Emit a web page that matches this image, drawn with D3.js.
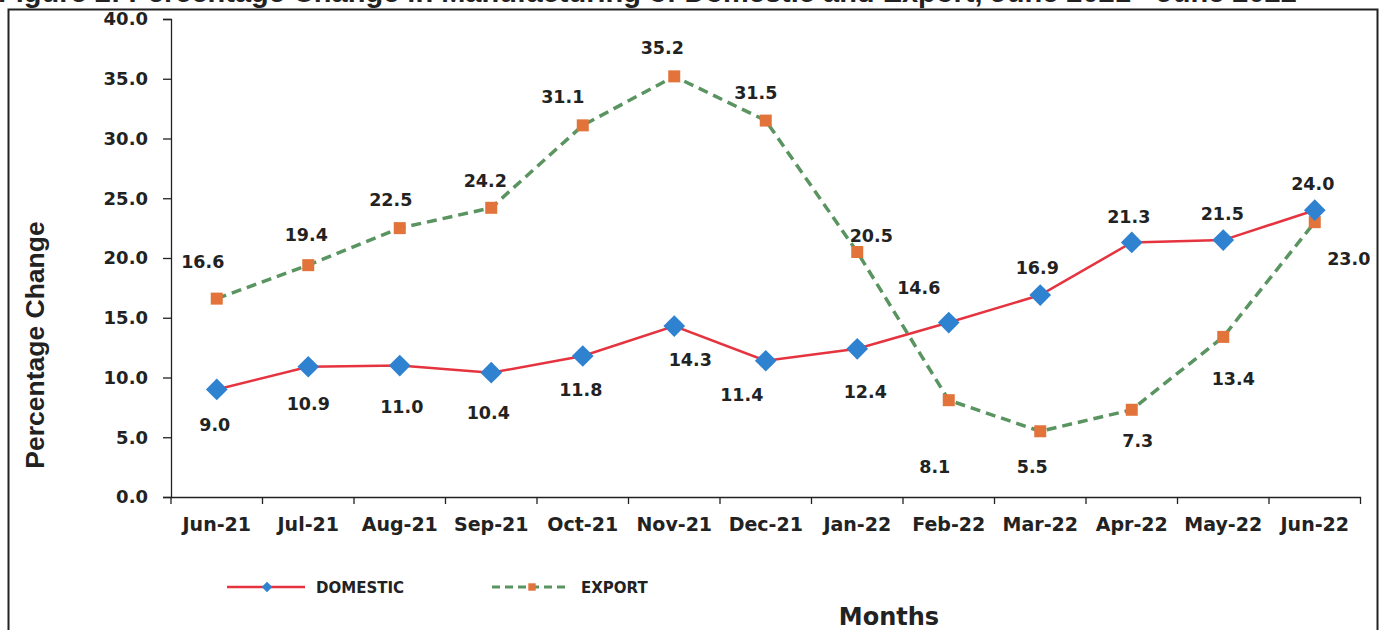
<!DOCTYPE html>
<html>
<head>
<meta charset="utf-8">
<script src="https://cdn.jsdelivr.net/npm/d3@7"></script>
<style>
  body { margin: 0; background: #fff; }
  svg { display: block; font-family: "DejaVu Sans", sans-serif; }
</style>
</head>
<body>
<div id="chart"></div>
<script>
/* chart values */
var months = ["Jun-21", "Jul-21", "Aug-21", "Sep-21", "Oct-21", "Nov-21", "Dec-21",
              "Jan-22", "Feb-22", "Mar-22", "Apr-22", "May-22", "Jun-22"];
var domestic = [9.0, 10.9, 11.0, 10.4, 11.8, 14.3, 11.4, 12.4, 14.6, 16.9, 21.3, 21.5, 24.0];
var exportVals = [16.6, 19.4, 22.5, 24.2, 31.1, 35.2, 31.5, 20.5, 8.1, 5.5, 7.3, 13.4, 23.0];
var yTicks = [0, 5, 10, 15, 20, 25, 30, 35, 40];
var seriesNames = ["DOMESTIC", "EXPORT"];
var titleText = "Figure 2: Percentage Change in Manufacturing of Domestic and Export, June 2021 - June 2022";

/* label nudges (dx, dy) per point, as placed in the original */
var domLabelPos = [[-2,36],[0,37],[2,41],[-3,40],[-2,34],[16,34],[-24,34],[8,43],[-30,-35],[-3,-27],[-3,-25],[-1,-26],[-2,-26]];
var expLabelPos = [[-14,-37],[-2,-30],[-9,-28],[-6,-27],[-20,-28],[-12,-28],[-10,-28],[14,-16],[-14,67],[-8,36],[6,31],[10,42],[34,37]];

var W = 1392, H = 630;
var margin = {top: 19, left: 171};
var plotW = 1189.5, plotH = 478;
var dark = "#222";

var svg = d3.select("#chart").append("svg").attr("width", W).attr("height", H);

/* title, cut off by the top edge as in the original */
svg.append("text")
    .attr("x", -2)
    .attr("y", 2)
    .attr("font-family", "Liberation Sans, Arial, sans-serif")
    .attr("font-size", 29)
    .attr("font-weight", "bold")
    .attr("fill", dark)
    .text(titleText);

/* outer frame */
svg.append("rect")
    .attr("x", 8.5).attr("y", 9.5)
    .attr("width", 1369).attr("height", 640)
    .attr("fill", "none")
    .attr("stroke", dark)
    .attr("stroke-width", 2);

var g = svg.append("g").attr("transform", "translate(" + margin.left + "," + margin.top + ")");

var x = d3.scaleBand().domain(months).range([0, plotW]);
var y = d3.scaleLinear().domain([0, 40]).range([plotH, 0]);
var cx = function(d, i) { return x(months[i]) + x.bandwidth() / 2; };

/* y axis */
var yAxis = g.append("g")
    .call(d3.axisLeft(y).tickValues(yTicks).tickSize(8).tickPadding(15).tickFormat(d3.format(".1f")));
yAxis.selectAll("text").attr("font-size", 18).attr("font-weight", "bold").attr("fill", dark)
    .attr("font-family", "DejaVu Sans, sans-serif");
yAxis.selectAll("line, path").attr("stroke", dark).attr("stroke-width", 1.3);

/* x axis with ticks on band edges */
var xAxis = g.append("g").attr("transform", "translate(0," + plotH + ")")
    .call(d3.axisBottom(x).tickSize(0).tickPadding(21));
xAxis.select(".domain").attr("stroke", dark).attr("stroke-width", 1.5);
xAxis.selectAll("text").attr("font-size", 19).attr("font-weight", "bold").attr("fill", dark)
    .attr("font-family", "DejaVu Sans, sans-serif");
xAxis.selectAll(".edge")
    .data(d3.range(months.length + 1))
  .enter().append("line")
    .attr("class", "edge")
    .attr("x1", function(d) { return d * x.step(); })
    .attr("x2", function(d) { return d * x.step(); })
    .attr("y1", 0).attr("y2", 7)
    .attr("stroke", dark).attr("stroke-width", 1.3);

/* lines */
var line = d3.line()
    .x(function(d, i) { return cx(d, i); })
    .y(function(d) { return y(d); });

g.append("path")
    .datum(exportVals)
    .attr("fill", "none")
    .attr("stroke", "#5a9460")
    .attr("stroke-width", 3.5)
    .attr("stroke-dasharray", "10,6")
    .attr("d", line);

g.append("path")
    .datum(domestic)
    .attr("fill", "none")
    .attr("stroke", "#e5333f")
    .attr("stroke-width", 2.5)
    .attr("d", line);

/* markers */
g.selectAll(".sq")
    .data(exportVals)
  .enter().append("rect")
    .attr("class", "sq")
    .attr("x", function(d, i) { return cx(d, i) - 6; })
    .attr("y", function(d) { return y(d) - 6; })
    .attr("width", 12).attr("height", 12)
    .attr("fill", "#e2733a");

var diamond = d3.symbol().type(d3.symbolDiamond2).size(300);
g.selectAll(".dm")
    .data(domestic)
  .enter().append("path")
    .attr("class", "dm")
    .attr("transform", function(d, i) { return "translate(" + cx(d, i) + "," + y(d) + ")"; })
    .attr("d", diamond)
    .attr("fill", "#2f82cf");

/* data labels */
function addLabels(vals, pos) {
  g.selectAll(null)
      .data(vals)
    .enter().append("text")
      .attr("x", function(d, i) { return cx(d, i) + pos[i][0]; })
      .attr("y", function(d, i) { return y(d) + pos[i][1] + 6; })
      .attr("text-anchor", "middle")
      .attr("font-size", 17.5)
      .attr("font-weight", "bold")
      .attr("fill", dark)
      .text(function(d) { return d3.format(".1f")(d); });
}
addLabels(domestic, domLabelPos);
addLabels(exportVals, expLabelPos);

/* axis titles */
svg.append("text")
    .attr("transform", "translate(44," + (margin.top + plotH / 2 + 87) + ") rotate(-90)")
    .attr("text-anchor", "middle")
    .attr("font-family", "Liberation Sans, Arial, sans-serif")
    .attr("font-size", 26.5)
    .attr("font-weight", "bold")
    .attr("fill", dark)
    .text("Percentage Change");

svg.append("text")
    .attr("x", 889)
    .attr("y", 625)
    .attr("text-anchor", "middle")
    .attr("font-size", 24)
    .attr("font-weight", "bold")
    .attr("fill", dark)
    .text("Months");

/* legend */
var legend = svg.append("g").attr("transform", "translate(227,587)");
var item = legend.selectAll("g")
    .data(seriesNames)
  .enter().append("g")
    .attr("transform", function(d, i) { return "translate(" + (i * 265) + ",0)"; });

item.append("line")
    .attr("x1", 0).attr("x2", 78)
    .attr("stroke", function(d, i) { return i === 0 ? "#e5333f" : "#5a9460"; })
    .attr("stroke-width", function(d, i) { return i === 0 ? 2.5 : 3; })
    .attr("stroke-dasharray", function(d, i) { return i === 0 ? null : "8,5"; });

item.append("path")
    .attr("transform", "translate(40,0)")
    .attr("d", function(d, i) {
      return i === 0 ? d3.symbol().type(d3.symbolDiamond2).size(70)()
                     : d3.symbol().type(d3.symbolSquare2).size(70)();
    })
    .attr("fill", function(d, i) { return i === 0 ? "#2f82cf" : "#e2733a"; });

item.append("text")
    .attr("x", 89)
    .attr("y", 6)
    .attr("font-size", 15)
    .attr("font-weight", "bold")
    .attr("fill", dark)
    .text(function(d) { return d; });
</script>
</body>
</html>
